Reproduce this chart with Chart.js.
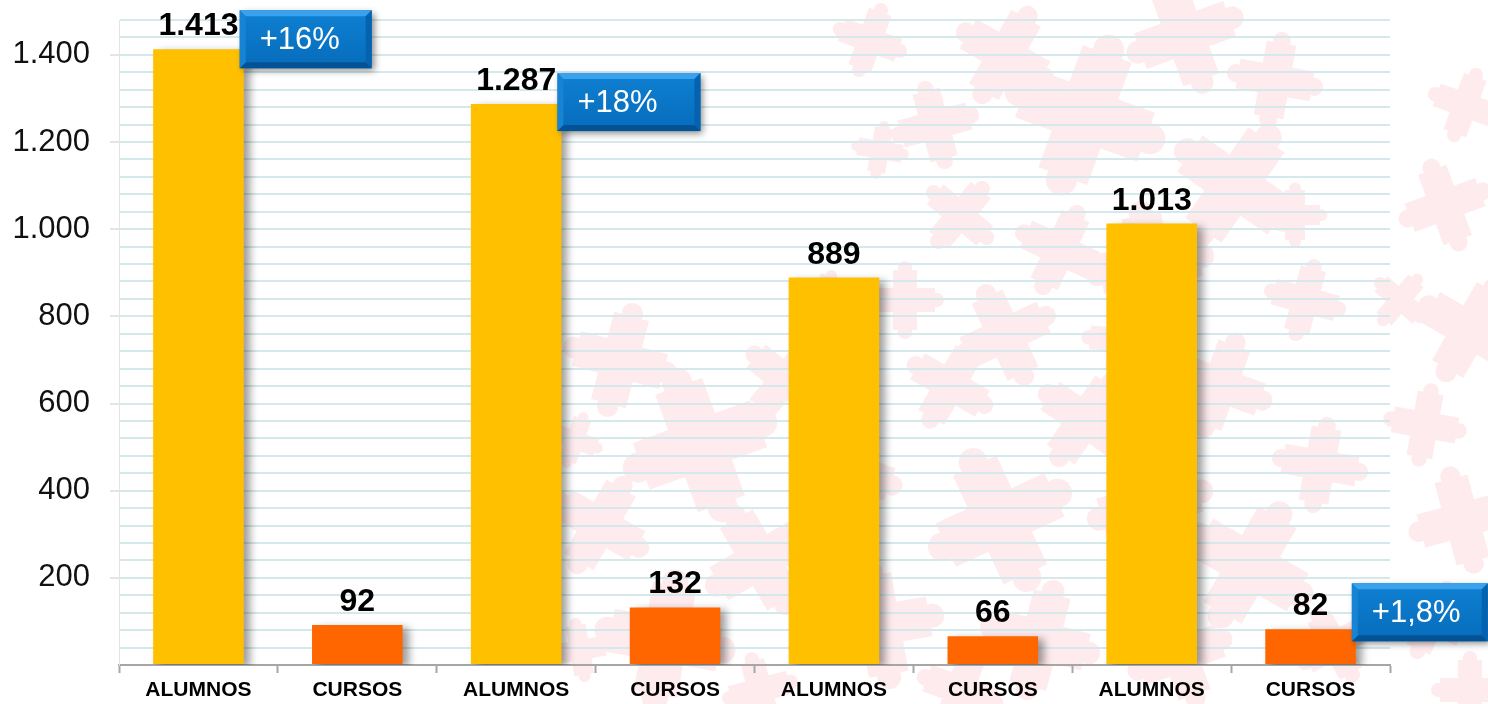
<!DOCTYPE html>
<html>
<head>
<meta charset="utf-8">
<script src="https://cdn.jsdelivr.net/npm/chart.js@4.4.1/dist/chart.umd.min.js"></script>
<style>
  html, body { margin: 0; padding: 0; background: #fff; }
  canvas { display: block; }
</style>
</head>
<body>
<canvas id="chart" width="1488" height="704"></canvas>
<script>
// Chart data
const categories = ['ALUMNOS', 'CURSOS', 'ALUMNOS', 'CURSOS', 'ALUMNOS', 'CURSOS', 'ALUMNOS', 'CURSOS'];
const values = [1413, 92, 1287, 132, 889, 66, 1013, 82];
const yTickStep = 40;
const yLabelStep = 200;
const yMax = 1480;

// Growth badges: which bar they sit next to, and their text
const badgeBars = [0, 2, 7];
const badgeTexts = ['+16%', '+18%', '+1,8%'];

const YELLOW = '#FFC000';
const ORANGE = '#FF6600';

// 1413 -> "1.413"
function fmt(n) {
  return String(n).replace(/\B(?=(\d{3})+(?!\d))/g, '.');
}

/*
 * Faint pink puzzle pieces in the background (decoration only).
 * Each entry: centre x, centre y, span, rotation in degrees.
 */
const pieces = [
  [870, 40, 60, 20], [935, 125, 70, -15], [1005, 55, 85, 30], [1085, 115, 130, 20],
  [1185, 35, 95, -20], [1275, 80, 75, 10], [1235, 185, 110, 35], [1150, 265, 100, -10],
  [1060, 250, 75, 25], [960, 215, 65, 40], [905, 300, 60, 0], [1005, 335, 85, -25],
  [1305, 300, 65, 15], [1295, 215, 50, 0], [880, 150, 45, 10],
  [1465, 105, 60, 20], [1445, 205, 75, -20], [1470, 330, 90, 30], [1425, 425, 65, 10],
  [1462, 520, 85, -15], [1432, 620, 65, 25], [1470, 690, 60, 0], [1400, 300, 50, 40],
  [620, 360, 90, 15], [700, 445, 125, -20], [600, 525, 85, 30], [665, 640, 110, 10],
  [785, 380, 75, 40], [760, 560, 95, -30], [850, 470, 85, 20], [880, 625, 100, -10],
  [950, 385, 75, 30], [1000, 520, 120, -25], [1040, 640, 95, 15], [1085, 420, 85, 35],
  [1150, 505, 100, -15], [1220, 385, 85, 20], [1250, 565, 110, 30], [1180, 655, 85, -20],
  [1320, 465, 75, 10], [1335, 645, 65, -30], [575, 440, 45, 20], [580, 650, 50, -10],
  [820, 300, 50, 25], [1120, 340, 60, 5], [960, 690, 70, 20], [760, 690, 60, -15]
];

function drawPiece(ctx, cx, cy, span, deg) {
  const arm = span * 0.4;
  const half = span / 2;
  const knob = arm * 0.3;
  ctx.save();
  ctx.translate(cx, cy);
  ctx.rotate(deg * Math.PI / 180);
  ctx.fillRect(-half, -arm / 2, span, arm);
  ctx.fillRect(-arm / 2, -half, arm, span);
  [[half, 0], [-half, 0], [0, half], [0, -half]].forEach(function (p) {
    ctx.beginPath();
    ctx.arc(p[0] * 1.06, p[1] * 1.06, knob, 0, Math.PI * 2);
    ctx.fill();
  });
  ctx.restore();
}

const backgroundPlugin = {
  id: 'puzzleBackground',
  beforeDraw: function (chart) {
    const ctx = chart.ctx;
    ctx.save();
    ctx.fillStyle = '#ffffff';
    ctx.fillRect(0, 0, chart.width, chart.height);
    ctx.fillStyle = '#feebed';
    pieces.forEach(function (p) { drawPiece(ctx, p[0], p[1], p[2], p[3]); });
    ctx.restore();
  }
};

// Bar shadows and the bold value labels above the bars
const barDecorPlugin = {
  id: 'barDecor',
  beforeDatasetsDraw: function (chart) {
    const ctx = chart.ctx;
    ctx.save();
    ctx.shadowColor = 'rgba(0, 0, 0, 0.38)';
    ctx.shadowBlur = 8;
    ctx.shadowOffsetX = 6;
    ctx.shadowOffsetY = 3;
  },
  afterDatasetsDraw: function (chart) {
    const ctx = chart.ctx;
    ctx.restore();
    const meta = chart.getDatasetMeta(0);
    ctx.save();
    ctx.fillStyle = '#000';
    ctx.font = 'bold 32px "Liberation Sans", Arial, sans-serif';
    ctx.textAlign = 'center';
    ctx.textBaseline = 'alphabetic';
    meta.data.forEach(function (bar, i) {
      ctx.fillText(fmt(values[i]), bar.x, bar.y - 14);
    });
    ctx.restore();
  }
};

// Blue bevelled boxes with the growth percentages
const badgePlugin = {
  id: 'badges',
  afterDraw: function (chart, args, opts) {
    const ctx = chart.ctx;
    const meta = chart.getDatasetMeta(0);
    badgeBars.forEach(function (idx, k) {
      const bar = meta.data[idx];
      const w = opts.widths[k];
      const h = 58;
      const x = bar.x + bar.width / 2 - 4;
      const y = bar.y + opts.dy[k];
      const b = 6;
      ctx.save();
      ctx.shadowColor = 'rgba(0, 0, 0, 0.45)';
      ctx.shadowBlur = 7;
      ctx.shadowOffsetX = 3;
      ctx.shadowOffsetY = 3;
      const g = ctx.createLinearGradient(0, y, 0, y + h);
      g.addColorStop(0, '#0f80d2');
      g.addColorStop(1, '#066cbb');
      ctx.fillStyle = g;
      ctx.fillRect(x, y, w, h);
      ctx.restore();

      ctx.save();
      // bevels
      ctx.fillStyle = '#3aa2ec';
      ctx.beginPath();
      ctx.moveTo(x, y); ctx.lineTo(x + w, y); ctx.lineTo(x + w - b, y + b); ctx.lineTo(x + b, y + b);
      ctx.closePath(); ctx.fill();
      ctx.fillStyle = '#035296';
      ctx.beginPath();
      ctx.moveTo(x, y + h); ctx.lineTo(x + w, y + h); ctx.lineTo(x + w - b, y + h - b); ctx.lineTo(x + b, y + h - b);
      ctx.closePath(); ctx.fill();
      ctx.fillStyle = '#0562ae';
      ctx.beginPath();
      ctx.moveTo(x + w, y); ctx.lineTo(x + w, y + h); ctx.lineTo(x + w - b, y + h - b); ctx.lineTo(x + w - b, y + b);
      ctx.closePath(); ctx.fill();
      ctx.fillStyle = '#1684d2';
      ctx.beginPath();
      ctx.moveTo(x, y); ctx.lineTo(x, y + h); ctx.lineTo(x + b, y + h - b); ctx.lineTo(x + b, y + b);
      ctx.closePath(); ctx.fill();

      ctx.fillStyle = '#ffffff';
      ctx.font = '31px "Liberation Sans", Arial, sans-serif';
      ctx.textAlign = 'left';
      ctx.textBaseline = 'middle';
      ctx.fillText(badgeTexts[k], x + 20, y + h / 2 + 1);
      ctx.restore();
    });
  }
};

const ctx = document.getElementById('chart');
new Chart(ctx, {
  type: 'bar',
  data: {
    labels: categories,
    datasets: [{
      data: values,
      backgroundColor: values.map(function (v, i) { return i % 2 === 0 ? YELLOW : ORANGE; }),
      borderWidth: 0,
      barPercentage: 0.57,
      categoryPercentage: 1.0
    }]
  },
  options: {
    responsive: false,
    animation: false,
    events: [],
    layout: { padding: { top: 20, right: 98, left: 0, bottom: 0 } },
    plugins: {
      legend: { display: false },
      tooltip: { enabled: false },
      badges: { widths: [132, 143, 136], dy: [-39, -31, -46] }
    },
    scales: {
      x: {
        grid: {
          drawOnChartArea: false,
          drawTicks: true,
          tickLength: 8,
          tickColor: '#a6a6a6',
          tickWidth: 2
        },
        border: { color: '#a6a6a6', width: 2 },
        ticks: {
          color: '#000',
          padding: 5,
          maxRotation: 0,
          autoSkip: false,
          font: { family: '"Liberation Sans", Arial, sans-serif', size: 21, weight: 'bold' }
        },
        afterFit: function (scale) {
          scale.height = 39;
          scale.paddingLeft = 0;
          scale.paddingRight = 0;
        }
      },
      y: {
        min: 0,
        max: yMax,
        grid: {
          color: '#d5e8eb',
          lineWidth: 2,
          tickLength: 9,
          tickColor: function (c) {
            return c.tick && c.tick.value > 0 && c.tick.value % yLabelStep === 0 ? '#e4e4e4' : 'rgba(0,0,0,0)';
          }
        },
        border: { color: '#e4e4e4', width: 1 },
        ticks: {
          stepSize: yTickStep,
          autoSkip: false,
          padding: 20,
          color: '#111',
          font: { family: '"Liberation Sans", Arial, sans-serif', size: 31 },
          callback: function (v) {
            return v > 0 && v % yLabelStep === 0 ? fmt(v) : '';
          }
        },
        afterFit: function (scale) {
          scale.width = 119;
          scale.paddingTop = 0;
          scale.paddingBottom = 0;
        }
      }
    }
  },
  plugins: [backgroundPlugin, barDecorPlugin, badgePlugin]
});
</script>
</body>
</html>
